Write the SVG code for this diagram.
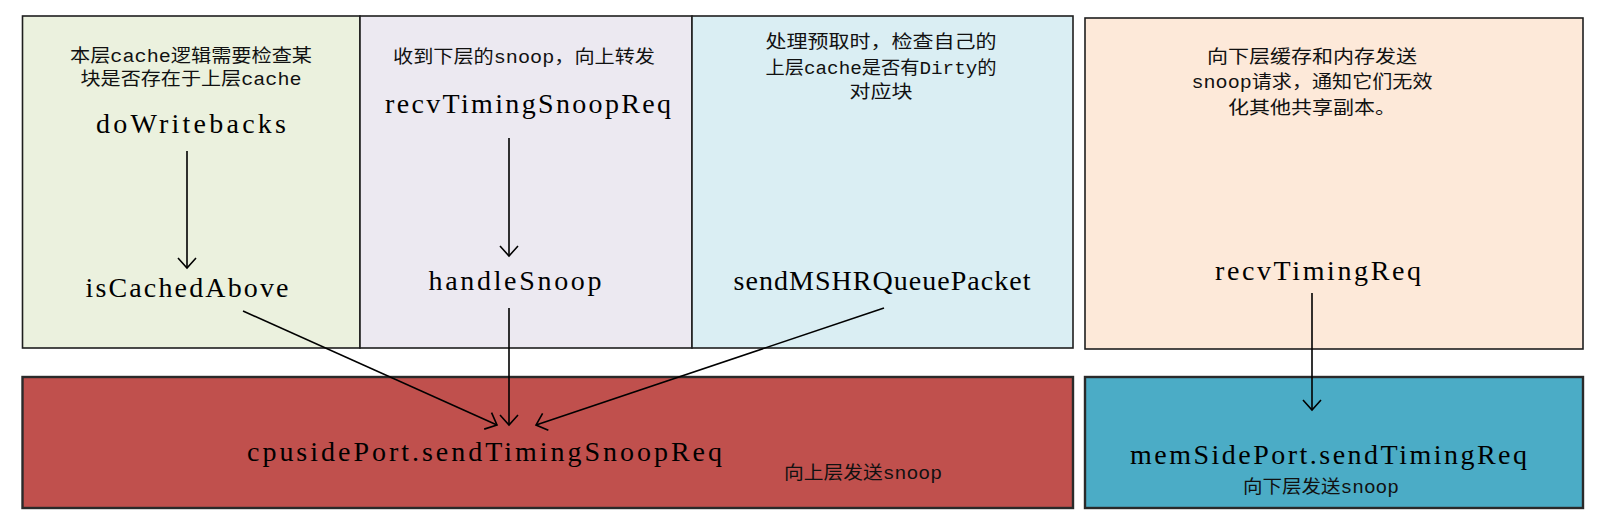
<svg xmlns="http://www.w3.org/2000/svg" width="1609" height="531" viewBox="0 0 1609 531">
<style>
.box{stroke:#1e1e1e;stroke-width:1.6}
.bbox{stroke:#2a2a2a;stroke-width:2.4}
.lbl{font-family:"Liberation Serif","DejaVu Serif",serif;font-size:28px;fill:#000;text-anchor:middle}
.note{font-family:"Liberation Mono","Noto Sans CJK SC",monospace;font-size:18px;fill:#111;text-anchor:middle}
.edge{stroke:#000;stroke-width:1.6;fill:none;marker-end:url(#arr)}
</style>
<defs>
<marker id="arr" markerUnits="userSpaceOnUse" viewBox="-12 -11 14 22" refX="0" refY="0" markerWidth="14" markerHeight="22" orient="auto">
<path d="M-10,-9 L0,0 L-10,9" fill="none" stroke="#000" stroke-width="1.6"/>
</marker>
</defs>
<rect width="1609" height="531" fill="#fff"/>
<g id="green">
<rect class="box" x="22.5" y="16" width="337.5" height="332" fill="#EBF1DE"/>
<text class="note" x="191" y="62" textLength="242" lengthAdjust="spacingAndGlyphs">本层cache逻辑需要检查某</text>
<text class="note" x="191" y="85" textLength="221" lengthAdjust="spacingAndGlyphs">块是否存在于上层cache</text>
</g>
<g id="doWritebacks"><text class="lbl" x="191" y="133" textLength="190" lengthAdjust="spacing">doWritebacks</text></g>
<g id="isCachedAbove"><text class="lbl" x="187" y="297" textLength="203" lengthAdjust="spacing">isCachedAbove</text></g>
<g id="purple">
<rect class="box" x="360" y="16" width="332" height="332" fill="#ECE9F1"/>
<text class="note" x="524" y="63" textLength="262" lengthAdjust="spacingAndGlyphs">收到下层的snoop，向上转发</text>
</g>
<g id="recvTimingSnoopReq"><text class="lbl" x="528" y="113" textLength="286" lengthAdjust="spacing">recvTimingSnoopReq</text></g>
<g id="handleSnoop"><text class="lbl" x="515" y="290" textLength="173" lengthAdjust="spacing">handleSnoop</text></g>
<g id="lightblue">
<rect class="box" x="692" y="16" width="381" height="332" fill="#DAEEF3"/>
<text class="note" x="881" y="48" textLength="231" lengthAdjust="spacingAndGlyphs">处理预取时，检查自己的</text>
<text class="note" x="881" y="74" textLength="231" lengthAdjust="spacingAndGlyphs">上层cache是否有Dirty的</text>
<text class="note" x="881" y="98" textLength="63" lengthAdjust="spacingAndGlyphs">对应块</text>
</g>
<g id="sendMSHRQueuePacket"><text class="lbl" x="882" y="290" textLength="297" lengthAdjust="spacing">sendMSHRQueuePacket</text></g>
<g id="peach">
<rect class="box" x="1085" y="18" width="498" height="331" fill="#FDE9D9"/>
<text class="note" x="1312" y="63" textLength="210" lengthAdjust="spacingAndGlyphs">向下层缓存和内存发送</text>
<text class="note" x="1312" y="88" textLength="241" lengthAdjust="spacingAndGlyphs">snoop请求，通知它们无效</text>
<text class="note" x="1312" y="114" textLength="168" lengthAdjust="spacingAndGlyphs">化其他共享副本。</text>
</g>
<g id="recvTimingReq"><text class="lbl" x="1318" y="280" textLength="206" lengthAdjust="spacing">recvTimingReq</text></g>
<g id="cpusidePort">
<rect class="bbox" x="22.5" y="377" width="1050.5" height="131" fill="#C0504D"/>
<text class="lbl" x="484.5" y="461" textLength="475" lengthAdjust="spacing">cpusidePort.sendTimingSnoopReq</text>
<text class="note" x="863" y="479" textLength="158" lengthAdjust="spacingAndGlyphs">向上层发送snoop</text>
</g>
<g id="memSidePort">
<rect class="bbox" x="1085" y="377" width="498" height="131" fill="#4BACC6"/>
<text class="lbl" x="1328.5" y="464" textLength="397" lengthAdjust="spacing">memSidePort.sendTimingReq</text>
<text class="note" x="1321" y="493" textLength="156" lengthAdjust="spacingAndGlyphs">向下层发送snoop</text>
</g>
<g id="connectors">
<line class="edge" x1="187" y1="151" x2="187" y2="268"/>
<line class="edge" x1="509" y1="138" x2="509" y2="256"/>
<line class="edge" x1="243" y1="311" x2="497" y2="425"/>
<line class="edge" x1="509" y1="308" x2="509" y2="425"/>
<line class="edge" x1="884" y1="308" x2="536" y2="425"/>
<line class="edge" x1="1312" y1="293" x2="1312" y2="410"/>
</g>
</svg>
